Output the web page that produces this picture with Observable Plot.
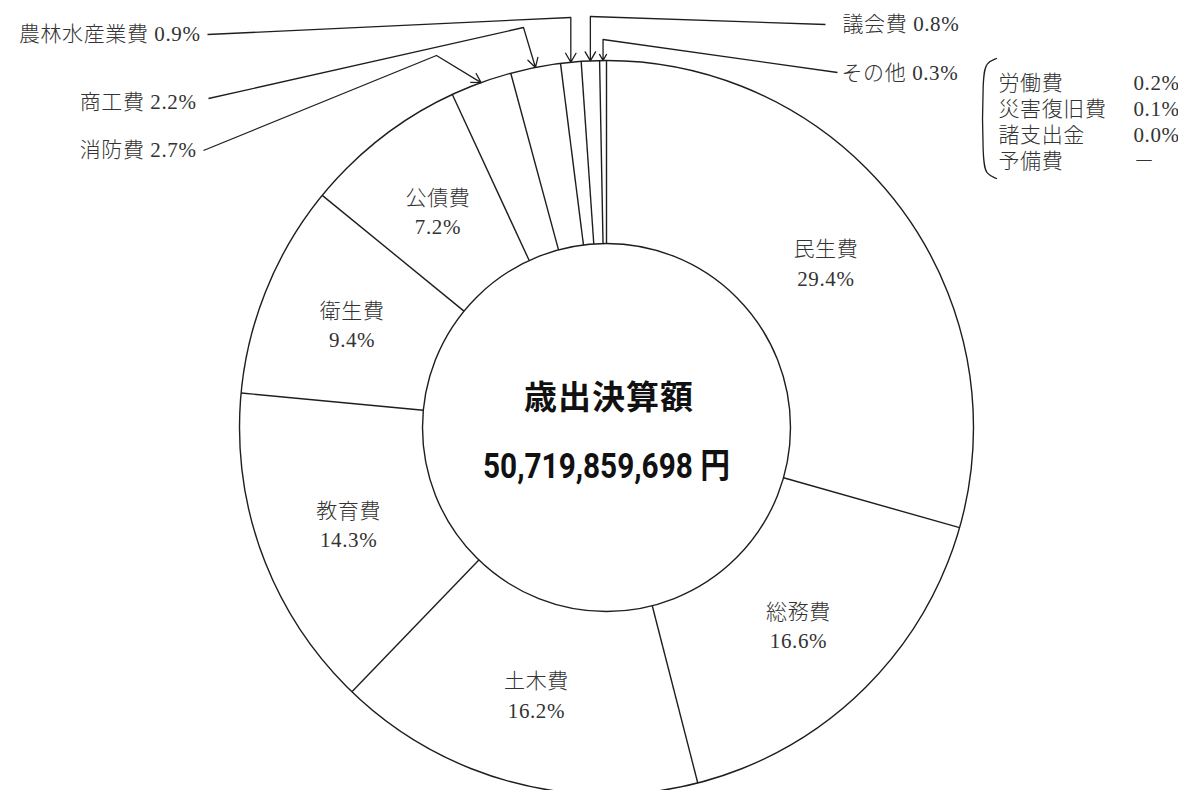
<!DOCTYPE html>
<html>
<head>
<meta charset="utf-8">
<script src="https://cdn.jsdelivr.net/npm/d3@7"></script>
<script src="https://cdn.jsdelivr.net/npm/@observablehq/plot@0.6"></script>
<style>
  html, body { margin: 0; padding: 0; background: #fff; overflow: hidden; }
  #chart svg { display: block; }
</style>
</head>
<body>
<div id="chart"></div>
<script>
// ---------- data ----------
const categories = ["民生費", "総務費", "土木費", "教育費", "衛生費", "公債費", "消防費", "商工費", "農林水産業費", "議会費", "その他"];
const shares = [29.4, 16.6, 16.2, 14.3, 9.4, 7.2, 2.7, 2.2, 0.9, 0.8, 0.3];
const insideCategories = ["民生費", "総務費", "土木費", "教育費", "衛生費", "公債費"];
const otherItems = ["労働費", "災害復旧費", "諸支出金", "予備費"];
const otherValues = ["0.2%", "0.1%", "0.0%", "－"];
const centerTitle = "歳出決算額";
const centerAmount = "50,719,859,698 円";

// ---------- layout ----------
const W = 1178, H = 790;
const CX = 606, CY = 427, R_OUT = 367, R_IN = 184, R_LABEL = 275;
const INK = "#1e1e1e", TEXT = "#333";
const LABEL_FONT = "'Liberation Serif','Noto Sans CJK JP',serif";
const LABEL_SIZE = 21;
const calloutLayout = {
  "消防費":       {tx: 196, ty: 150, anchor: "end",   lx: 203, ly: 150, ex: 436,  ey: 55},
  "商工費":       {tx: 196, ty: 102, anchor: "end",   lx: 208, ly: 98,  ex: 523,  ey: 27},
  "農林水産業費": {tx: 200, ty: 34,  anchor: "end",   lx: 207, ly: 34,  ex: null, ey: 17},
  "議会費":       {tx: 842, ty: 24,  anchor: "start", lx: 825, ly: 24,  ex: null, ey: 16},
  "その他":       {tx: 841, ty: 73,  anchor: "start", lx: 837, ly: 72,  ex: null, ey: 39}
};
const listLayout = {nameX: 998, valueX: 1133, y0: 83, step: 26};

// ---------- derived ----------
const fmt = v => v.toFixed(1) + "%";
const total = d3.sum(shares);
const polar = (deg, r) => {
  const a = deg * Math.PI / 180;
  return {x: CX + r * Math.sin(a), y: CY - r * Math.cos(a)};
};
let acc = 0;
const slices = categories.map((name, i) => {
  const a0 = acc / total * 360;
  acc += shares[i];
  const a1 = acc / total * 360;
  return {name, value: shares[i], a0, a1, mid: (a0 + a1) / 2};
});

const separators = slices.map(s => {
  const p = polar(s.a0, R_IN), q = polar(s.a0, R_OUT);
  return {x1: p.x, y1: p.y, x2: q.x, y2: q.y};
});

const insideLabels = slices.filter(s => insideCategories.includes(s.name)).map(s => {
  const p = polar(s.mid, R_LABEL);
  return {x: p.x, y: p.y, text: s.name + "\n" + fmt(s.value)};
});

const callouts = slices.filter(s => calloutLayout[s.name]).map(s => {
  const L = calloutLayout[s.name];
  const tip = polar(s.mid, R_OUT);
  const ex = L.ex == null ? tip.x : L.ex;
  return {
    text: s.name + " " + fmt(s.value), tx: L.tx, ty: L.ty, anchor: L.anchor,
    lx: L.lx, ly: L.ly, ex, ey: L.ey, px: tip.x, py: tip.y
  };
});

const listRows = otherItems.map((name, i) => ({
  name, value: otherValues[i], y: listLayout.y0 + i * listLayout.step
}));
const bTop = listRows[0].y - 25, bBot = listRows[listRows.length - 1].y + 17;
const bracket = [
  {x: 996, y: bTop}, {x: 986, y: bTop + 4}, {x: 982, y: bTop + 16},
  {x: 982, y: bBot - 16}, {x: 986, y: bBot - 4}, {x: 996, y: bBot}
];

const labelText = (data, opts) => Plot.text(data, {
  fontSize: LABEL_SIZE, fontFamily: LABEL_FONT, fontWeight: 300, fill: TEXT,
  lineAnchor: "middle", ...opts
});

// ---------- plot ----------
const chart = Plot.plot({
  width: W, height: H,
  margin: 0,
  x: {domain: [0, W], range: [0, W], axis: null},
  y: {domain: [0, H], range: [0, H], axis: null},
  style: {background: "#fff", overflow: "visible"},
  marks: [
    // rings
    Plot.dot([0], {x: () => CX, y: () => CY, r: R_OUT, stroke: INK, strokeWidth: 1.4, fill: "none"}),
    Plot.dot([0], {x: () => CX, y: () => CY, r: R_IN, stroke: INK, strokeWidth: 1.4, fill: "none"}),
    // slice separators
    Plot.link(separators, {x1: "x1", y1: "y1", x2: "x2", y2: "y2", stroke: INK, strokeWidth: 1.4}),
    // inside labels
    labelText(insideLabels, {x: "x", y: "y", text: "text", lineHeight: 1.4, textAnchor: "middle"}),
    // callout leaders
    Plot.link(callouts, {x1: "lx", y1: "ly", x2: "ex", y2: "ey", stroke: INK, strokeWidth: 1.3}),
    Plot.arrow(callouts, {
      x1: "ex", y1: "ey", x2: "px", y2: "py", stroke: INK, strokeWidth: 1.3,
      headLength: 12, headAngle: 60, bend: 0, inset: 0
    }),
    labelText(callouts.filter(d => d.anchor === "end"), {x: "tx", y: "ty", text: "text", textAnchor: "end"}),
    labelText(callouts.filter(d => d.anchor === "start"), {x: "tx", y: "ty", text: "text", textAnchor: "start"}),
    // breakdown of その他
    Plot.line(bracket, {x: "x", y: "y", curve: "basis", stroke: INK, strokeWidth: 1.3}),
    labelText(listRows, {x: () => listLayout.nameX, y: "y", text: "name", textAnchor: "start"}),
    labelText(listRows, {x: () => listLayout.valueX, y: "y", text: "value", textAnchor: "start"}),
    // center
    Plot.text([centerTitle], {
      x: () => CX + 2, y: () => 398, text: d => d, fontSize: 33, fontWeight: "bold",
      fontFamily: "'Noto Sans CJK JP',sans-serif", fill: "#111", textAnchor: "middle",
      lineAnchor: "middle"
    }),
    Plot.text([centerAmount], {
      x: () => CX, y: () => 466, text: d => d, fontSize: 35, fontWeight: "bold",
      fontFamily: "Roboto,'Noto Sans CJK JP',sans-serif", fill: "#111", textAnchor: "middle",
      lineAnchor: "middle"
    })
  ]
});
document.getElementById("chart").appendChild(chart);
const texts = d3.select(chart).selectAll("text");
texts.filter(function() { return this.textContent === centerTitle; })
  .attr("textLength", 169).attr("lengthAdjust", "spacing");
texts.filter(function() { return this.textContent === centerAmount; })
  .attr("textLength", 247).attr("lengthAdjust", "spacingAndGlyphs");
texts.filter(function() { return this.textContent !== centerTitle && this.textContent !== centerAmount; })
  .attr("letter-spacing", "0.6px");
</script>
</body>
</html>
